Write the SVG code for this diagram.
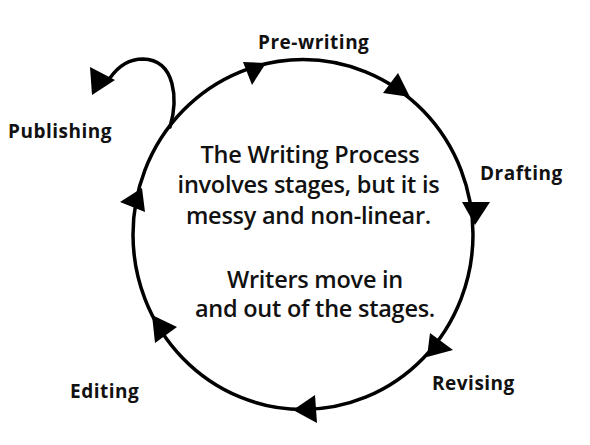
<svg xmlns="http://www.w3.org/2000/svg" width="590" height="445" viewBox="0 0 590 445">
  <style>
    .bg { fill: #ffffff; }
    .label { font-family: "Open Sans", "Liberation Sans", sans-serif; font-weight: 700; font-size: 19px; letter-spacing: 0.5px; fill: #111111; }
    .center { font-family: "Open Sans", "Liberation Sans", sans-serif; font-weight: 600; font-size: 23.5px; letter-spacing: -0.25px; fill: #111111; text-anchor: middle; }
    .line { fill: none; stroke: #000000; stroke-width: 3.5; stroke-linecap: round; }
    .head { fill: #000000; stroke: none; }
  </style>
  <rect class="bg" x="0" y="0" width="590" height="445"/>

  <g id="connectors">
    <ellipse class="line" cx="303" cy="234.5" rx="170" ry="175"/>
    <path class="line" d="M170,127 C178,100 176,60 143,59 C128,59 117,68 110,78"/>
    <polygon class="head" points="243,62 266,63 252,85"/>
    <polygon class="head" points="398,73 383,93 410,97"/>
    <polygon class="head" points="462,202 490,202 475,225"/>
    <polygon class="head" points="430,333 453,350 427,357"/>
    <polygon class="head" points="315,395 317,423 293,410"/>
    <polygon class="head" points="177,327 155,343 152,315"/>
    <polygon class="head" points="120,202 145,212 142,188"/>
    <polygon class="head" points="90,67 92,95 115,80"/>
  </g>

  <g id="prewriting"><text class="label" x="258" y="49">Pre-writing</text></g>
  <g id="drafting"><text class="label" x="480" y="180">Drafting</text></g>
  <g id="revising"><text class="label" x="432" y="390">Revising</text></g>
  <g id="editing"><text class="label" x="70" y="398">Editing</text></g>
  <g id="publishing"><text class="label" x="8" y="138">Publishing</text></g>

  <g id="center-text">
    <text class="center" x="310" y="163">The Writing Process</text>
    <text class="center" x="308.5" y="193">involves stages, but it is</text>
    <text class="center" x="308.5" y="224">messy and non-linear.</text>
    <text class="center" x="315" y="288">Writers move in</text>
    <text class="center" x="315" y="317">and out of the stages.</text>
  </g>
</svg>
